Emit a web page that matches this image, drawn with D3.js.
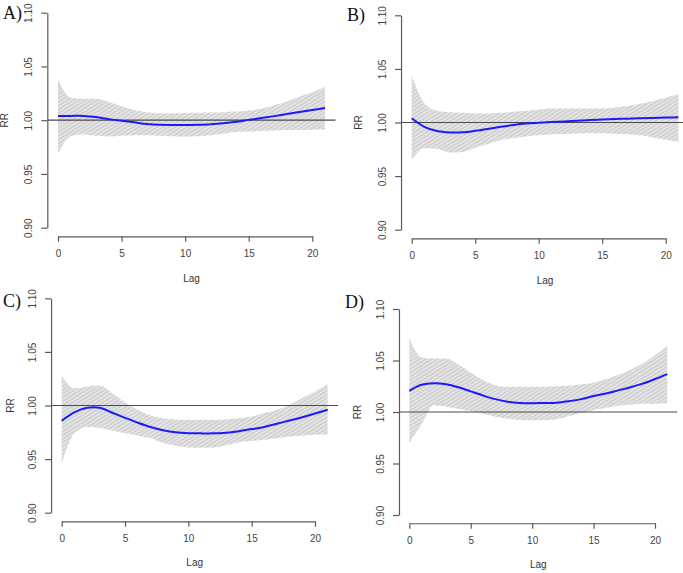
<!DOCTYPE html>
<html><head><meta charset="utf-8">
<script src="https://cdn.jsdelivr.net/npm/d3@7/dist/d3.min.js"></script>
<style>
html,body{margin:0;padding:0;background:#fff;}
svg{display:block;}
</style></head>
<body>
<script>
// ---- data ----
const lags = d3.range(0, 22);
const panelLabels = ["A)", "B)", "C)", "D)"];
const xTicks = [0, 5, 10, 15, 20];
const yTicks = [0.90, 0.95, 1.00, 1.05, 1.10];
const yTickLabels = ["0.90", "0.95", "1.00", "1.05", "1.10"];

const rrA = [1.004,1.004,1.004,1.003,1.001,0.9995,0.998,0.9965,0.9957,0.9955,0.9955,0.9958,0.9963,0.9972,0.9985,1.0003,1.002,1.0038,1.0057,1.0076,1.0095,1.0114];
const hiA = [1.038,1.021,1.020,1.020,1.017,1.013,1.0095,1.0075,1.0065,1.0065,1.0068,1.007,1.0072,1.0075,1.008,1.009,1.011,1.014,1.0175,1.022,1.026,1.031];
const loA = [0.9685,0.985,0.987,0.9855,0.9848,0.9855,0.986,0.986,0.9855,0.985,0.9845,0.985,0.986,0.9875,0.989,0.9895,0.990,0.9905,0.991,0.991,0.9912,0.9914];

const rrB = [1.004,0.996,0.992,0.9907,0.9908,0.9922,0.994,0.996,0.9977,0.999,0.9998,1.0005,1.001,1.0017,1.0023,1.0028,1.0032,1.0036,1.004,1.0043,1.0046,1.005];
const hiB = [1.044,1.018,1.011,1.0095,1.009,1.0085,1.0085,1.009,1.010,1.011,1.012,1.013,1.013,1.013,1.013,1.013,1.014,1.0155,1.0175,1.020,1.023,1.0265];
const loB = [0.965,0.976,0.9755,0.972,0.9725,0.9765,0.980,0.9835,0.9855,0.987,0.988,0.989,0.9893,0.9897,0.990,0.990,0.9895,0.989,0.988,0.986,0.984,0.982];

const rrC = [0.9857,0.9935,0.9978,0.9979,0.9932,0.9885,0.984,0.980,0.977,0.975,0.9742,0.974,0.974,0.9745,0.976,0.978,0.980,0.983,0.986,0.989,0.9925,0.996];
const hiC = [1.028,1.016,1.0178,1.0187,1.0115,1.003,0.996,0.9907,0.988,0.987,0.9866,0.9866,0.9866,0.987,0.988,0.9897,0.993,0.996,1.0006,1.007,1.013,1.020];
const loC = [0.946,0.974,0.980,0.979,0.9766,0.974,0.972,0.9695,0.965,0.9625,0.9608,0.9605,0.9608,0.963,0.9657,0.967,0.968,0.9695,0.971,0.972,0.9727,0.9732];

const rrD = [1.0206,1.0265,1.028,1.027,1.024,1.020,1.016,1.0125,1.010,1.0088,1.0085,1.0087,1.009,1.0105,1.0125,1.0155,1.018,1.021,1.024,1.0275,1.032,1.0368];
const hiD = [1.0716,1.053,1.052,1.052,1.046,1.038,1.031,1.026,1.0245,1.0245,1.0245,1.0245,1.025,1.0255,1.027,1.0285,1.032,1.036,1.041,1.047,1.055,1.064];
const loD = [0.970,0.988,1.0065,1.005,1.003,1.001,0.998,0.9955,0.9935,0.9922,0.992,0.992,0.993,0.996,0.999,1.002,1.004,1.006,1.007,1.008,1.008,1.0085];

const series = [
  {rr: rrA, hi: hiA, lo: loA},
  {rr: rrB, hi: hiB, lo: loB},
  {rr: rrC, hi: hiC, lo: loC},
  {rr: rrD, hi: hiD, lo: loD}
];

// ---- layout (pixel positions of each plot region) ----
const layout = [
  {x0: 58.0,  x20: 312.3, y110: 12.7,  y090: 227.7, lab: [3, 18.5],   rrX: 4,   lagY: 282, tag: 0},
  {x0: 411.7, x20: 665.7, y110: 15.3,  y090: 229.7, lab: [347, 20.5], rrX: 358, lagY: 284, tag: 1},
  {x0: 61.7,  x20: 315.0, y110: 298.3, y090: 512.7, lab: [3, 306.5],  rrX: 10,  lagY: 565.5, tag: 2},
  {x0: 409.3, x20: 655.0, y110: 309.0, y090: 515.0, lab: [345, 308],  rrX: 357, lagY: 567.5, tag: 3}
];

const W = 683, H = 573;
const svg = d3.select("body").append("svg").attr("width", W).attr("height", H);

const defs = svg.append("defs");
const pat = defs.append("pattern").attr("id", "hatch")
  .attr("patternUnits", "userSpaceOnUse").attr("width", 3.2).attr("height", 3.2)
  .attr("patternTransform", "rotate(-32)");
pat.append("rect").attr("width", 3.2).attr("height", 3.2).attr("fill", "#d2d2d2");
pat.append("rect").attr("width", 3.2).attr("height", 1.1).attr("fill", "#ececec");

const sans = "'Liberation Sans', Arial, sans-serif";

layout.forEach((L, i) => {
  const S = series[i];
  const ux = (L.x20 - L.x0) / 20;
  const uy = (L.y090 - L.y110) / 0.2;
  const left = L.x0 - 0.84 * ux, right = L.x0 + 21.84 * ux;
  const top = L.y110 - 0.008 * uy, bottom = L.y090 + 0.008 * uy;

  const x = d3.scaleLinear().domain([-0.84, 21.84]).range([left, right]);
  const y = d3.scaleLinear().domain([0.892, 1.108]).range([bottom, top]);

  const g = svg.append("g");
  const clipId = "clip" + i;
  defs.append("clipPath").attr("id", clipId).append("rect")
    .attr("x", left).attr("y", top).attr("width", right - left).attr("height", bottom - top);

  const pg = g.append("g").attr("clip-path", `url(#${clipId})`);
  const data = lags.map((l, k) => ({l, rr: S.rr[k], hi: S.hi[k], lo: S.lo[k]}));

  const area = d3.area().x(d => x(d.l)).y0(d => y(d.lo)).y1(d => y(d.hi)).curve(d3.curveMonotoneX);
  pg.append("path").datum(data).attr("d", area).attr("fill", "url(#hatch)").attr("stroke", "none");

  pg.append("line").attr("x1", left).attr("x2", right).attr("y1", y(1)).attr("y2", y(1))
    .attr("stroke", "#4a4a4a").attr("stroke-width", 1.2);

  const line = d3.line().x(d => x(d.l)).y(d => y(d.rr)).curve(d3.curveCatmullRom.alpha(0.5));
  pg.append("path").datum(data).attr("d", line).attr("fill", "none")
    .attr("stroke", "#1a1aff").attr("stroke-width", 2);

  // x axis
  const xa = d3.scaleLinear().domain([0, 20]).range([x(0), x(20)]);
  const gx = g.append("g").attr("transform", `translate(0,${bottom})`)
    .call(d3.axisBottom(xa).tickValues(xTicks).tickSize(5.5).tickSizeOuter(0).tickPadding(8).tickFormat(d3.format("d")));
  gx.selectAll("path,line").attr("stroke", "#5a5a5a").attr("stroke-width", 1.2);
  gx.selectAll("text").attr("fill", "#444").style("font-family", sans).style("font-size", "10px");

  // y axis
  const ya = d3.scaleLinear().domain([0.90, 1.10]).range([y(0.90), y(1.10)]);
  const gy = g.append("g").attr("transform", `translate(${left},0)`)
    .call(d3.axisLeft(ya).tickValues(yTicks).tickSize(6).tickSizeOuter(0).tickFormat((d, k) => yTickLabels[k]));
  gy.selectAll("path,line").attr("stroke", "#5a5a5a").attr("stroke-width", 1.2);
  gy.selectAll("text").attr("fill", "#444").style("font-family", sans).style("font-size", "10px")
    .attr("transform", "rotate(-90)").attr("x", 0).attr("y", -15).attr("dy", 0)
    .attr("text-anchor", "middle");

  // axis titles
  g.append("text").attr("x", (left + right) / 2).attr("y", L.lagY).attr("text-anchor", "middle")
    .attr("fill", "#333").style("font-family", sans).style("font-size", "10px").text("Lag");
  g.append("text").attr("transform", `translate(${L.rrX + 3.6},${(top + bottom) / 2}) rotate(-90)`)
    .attr("text-anchor", "middle").attr("fill", "#333")
    .style("font-family", sans).style("font-size", "10px").text("RR");

  // panel tag
  g.append("text").attr("x", L.lab[0]).attr("y", L.lab[1])
    .style("font-family", "'Liberation Serif', 'Times New Roman', serif").style("font-size", "18px")
    .attr("fill", "#111").text(panelLabels[L.tag]);
});
</script>
</body></html>
